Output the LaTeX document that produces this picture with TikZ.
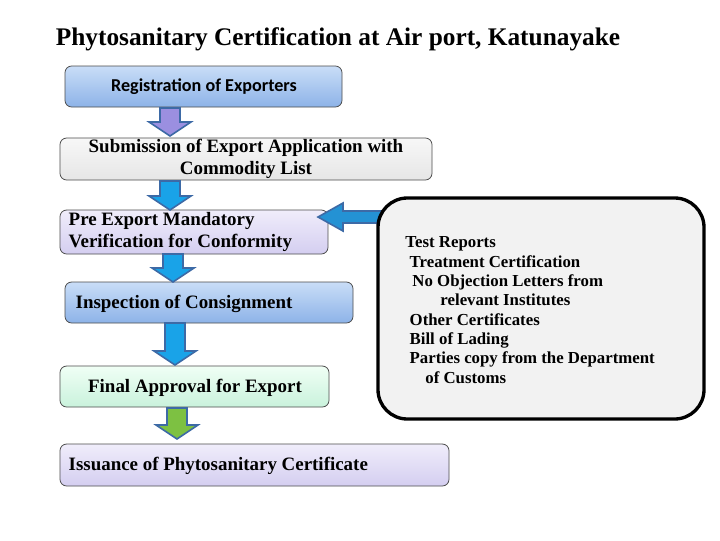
\documentclass[tikz,border=0pt]{standalone}
\usepackage{fontspec}
\setmainfont{Liberation Serif}
\newfontfamily\carl{Carlito}
\newfontfamily\djv{DejaVu Sans}
\usetikzlibrary{shapes.arrows}
\definecolor{bluetop}{HTML}{C9DDF7}\definecolor{bluebot}{HTML}{8DB3E8}
\definecolor{lavtop}{HTML}{F0EDFB}\definecolor{lavbot}{HTML}{D4CEF0}
\definecolor{greytop}{HTML}{F7F7F7}\definecolor{greybot}{HTML}{E6E6E6}
\definecolor{grtop}{HTML}{F0FFF5}\definecolor{grbot}{HTML}{C9F2DC}
\definecolor{arblue}{HTML}{19A3E8}\definecolor{arpurp}{HTML}{9B8FE0}
\definecolor{argreen}{HTML}{7DC142}\definecolor{arbord}{HTML}{3D6AA6}
\tikzset{x=0.75pt,y=-0.75pt,
 box/.style={draw=black!70,rounded corners=5pt,line width=0.6pt},
 btxt/.style={font=\fontsize{14.2}{16}\selectfont\bfseries,align=left,anchor=west}}
\newcommand{\downarr}[4]{% xc, ytop, ybot, color
 \fill[#4,draw=arbord,line width=1.2pt] (#1-10,#2) -- (#1+10,#2) -- (#1+10,#3-14) -- (#1+21,#3-14) -- (#1,#3) -- (#1-21,#3-14) -- (#1-10,#3-14) -- cycle;}
\newcommand{\bul}{{\djv\normalfont\fontsize{10}{12}\selectfont ➢}}
\begin{document}
\begin{tikzpicture}
\useasboundingbox[fill=white] (0,0) rectangle (720,540);
\node[font=\fontsize{19}{22}\selectfont\bfseries] (title) at (338,39) {Phytosanitary Certification at Air port, Katunayake};
% boxes
\shade[box,top color=bluetop,bottom color=bluebot] (65,66) rectangle (342,107);
\node[font=\carl\fontsize{13.6}{15}\selectfont\bfseries] (b1) at (204,87) {Registration of Exporters};
\shade[box,top color=greytop,bottom color=greybot] (60,138) rectangle (432,180);
\node[font=\fontsize{14.2}{16.5}\selectfont\bfseries,align=center] (b2) at (246,159) {Submission of Export Application with\\Commodity List};
\shade[box,top color=lavtop,bottom color=lavbot] (60,210) rectangle (328,254);
\node[btxt,font=\fontsize{14.2}{16.5}\selectfont\bfseries] (b3) at (64,232) {Pre Export Mandatory\\Verification for Conformity};
\shade[box,top color=bluetop,bottom color=bluebot] (65,282) rectangle (353,323);
\node[btxt] (b4) at (71,304) {Inspection of Consignment};
\shade[box,top color=grtop,bottom color=grbot] (60,366) rectangle (329,407);
\node[font=\fontsize{14.2}{16}\selectfont\bfseries] (b5) at (195,388) {Final Approval for Export};
\shade[box,top color=lavtop,bottom color=lavbot] (60,444) rectangle (449,486);
\node[btxt] (b6) at (64,466) {Issuance of Phytosanitary Certificate};
% arrows
\downarr{170}{108}{136}{arpurp}
\downarr{170}{181}{210}{arblue}
\downarr{173}{254}{282}{arblue}
\downarr{175}{323}{365}{arblue}
\downarr{177}{408}{439}{argreen}
\fill[arblue!70!arbord,draw=arbord,line width=1.2pt] (396,211) -- (343,211) -- (343,203) -- (318,217) -- (343,231) -- (343,223) -- (396,223) -- cycle;
% right box
\draw[line width=2.5pt,fill=black!5,rounded corners=22pt] (378,198) rectangle (704,419);
\node[anchor=north west,font=\fontsize{12.6}{14.5}\selectfont\bfseries,align=left] (list) at (382,232) {%
\bul\ \ Test Reports\\
\bul\ \ \ Treatment Certification\\
\bul\ \ \ \,No Objection Letters from\\
\hspace*{3.2em}relevant Institutes\\
\bul\ \ \ Other Certificates\\
\bul\ \ \ Bill of Lading\\
\bul\ \ \ Parties copy from the Department\\
\hspace*{2.3em}of Customs};
\end{tikzpicture}
\end{document}
